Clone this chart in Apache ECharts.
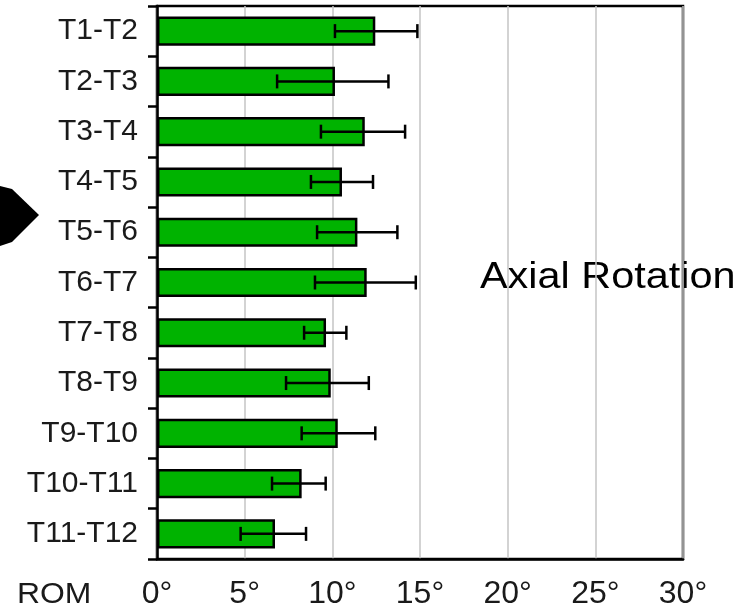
<!DOCTYPE html>
<html>
<head>
<meta charset="utf-8">
<script src="https://cdn.jsdelivr.net/npm/echarts@6/dist/echarts.min.js"></script>
<style>
html,body{margin:0;padding:0;background:#fff;}
#chart{width:744px;height:606px;}
</style>
</head>
<body>
<div id="chart"></div>
<script>
var categories = ['T1-T2','T2-T3','T3-T4','T4-T5','T5-T6','T6-T7','T7-T8','T8-T9','T9-T10','T10-T11','T11-T12'];
var meanROM = [12.45, 10.15, 11.85, 10.55, 11.43, 11.96, 9.64, 9.91, 10.31, 8.25, 6.73];
var errLow  = [10.15, 6.85, 9.35, 8.78, 9.13, 9.01, 8.39, 7.36, 8.25, 6.56, 4.77];
var errHigh = [14.85, 13.20, 14.15, 12.32, 13.71, 14.76, 10.80, 12.08, 12.45, 9.62, 8.50];
var xTicks = [0, 5, 10, 15, 20, 25, 30];

var errData = categories.map(function(c, i){ return [i, errLow[i], errHigh[i]]; });

var chart = echarts.init(document.getElementById('chart'));
chart.setOption({
  animation: false,
  backgroundColor: '#fff',
  grid: {
    left: 157, right: 61, top: 6, bottom: 47,
    containLabel: false, outerBoundsMode: 'none',
    show: true, borderColor: '#000', borderWidth: 2.5, backgroundColor: 'transparent'
  },
  xAxis: {
    type: 'value', min: xTicks[0], max: xTicks[xTicks.length-1], interval: 5,
    axisLine: {show: true, lineStyle: {color: '#000', width: 2.5}},
    axisTick: {show: false},
    splitLine: {show: true, lineStyle: {color: '#c4c4c4', width: 1.5}},
    axisLabel: {
      formatter: '{value}°', color: '#1a1a1a', fontSize: 32,
      fontFamily: 'Liberation Sans, Arial, sans-serif', margin: 19
    }
  },
  yAxis: {
    type: 'category', data: categories, inverse: true,
    axisLine: {show: true, lineStyle: {color: '#000', width: 2.5}},
    axisTick: {show: true, length: 9, lineStyle: {color: '#000', width: 2.5}},
    splitLine: {show: false},
    axisLabel: {
      color: '#1a1a1a', fontSize: 30, margin: 19,
      fontFamily: 'Liberation Sans, Arial, sans-serif'
    }
  },
  series: [
    {
      type: 'bar', data: meanROM, barCategoryGap: '42%',
      itemStyle: {color: '#00b300', borderColor: '#000', borderWidth: 2.5},
      z: 2
    },
    {
      type: 'custom', data: errData, z: 5,
      renderItem: function(params, api){
        var i = api.value(0);
        var lo = api.coord([api.value(1), i]);
        var hi = api.coord([api.value(2), i]);
        var h = 7;
        var st = {stroke: '#000', lineWidth: 2.5};
        return {
          type: 'group',
          children: [
            {type: 'line', shape: {x1: lo[0], y1: lo[1], x2: hi[0], y2: hi[1]}, style: st},
            {type: 'line', shape: {x1: lo[0], y1: lo[1]-h, x2: lo[0], y2: lo[1]+h}, style: st},
            {type: 'line', shape: {x1: hi[0], y1: hi[1]-h, x2: hi[0], y2: hi[1]+h}, style: st}
          ]
        };
      }
    }
  ],
  graphic: [
    {
      type: 'text', x: 480, y: 278, scaleX: 1.15,
      style: {text: 'Axial Rotation', x: 0, y: 0, fill: '#000', fontSize: 36,
        fontFamily: 'Liberation Sans, Arial, sans-serif', textVerticalAlign: 'middle'}
    },
    {
      type: 'text', x: 17, y: 595, scaleX: 1.1,
      style: {text: 'ROM', x: 0, y: 0, fill: '#1a1a1a', fontSize: 29,
        fontFamily: 'Liberation Sans, Arial, sans-serif', textVerticalAlign: 'middle'}
    },
    {
      type: 'polygon',
      shape: {points: [[0,186],[12,189],[39,215],[12,242],[0,246]]},
      style: {fill: '#000'}
    }
  ]
});
</script>
</body>
</html>
